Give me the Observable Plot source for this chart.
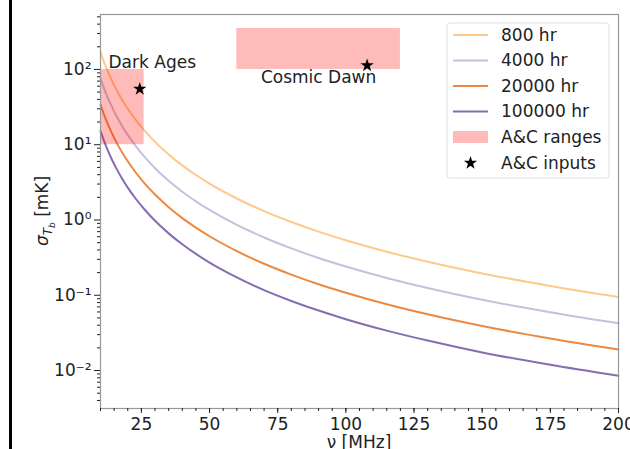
<!DOCTYPE html>
<html>
<head>
<meta charset="utf-8">
<script src="https://cdn.jsdelivr.net/npm/d3@7"></script>
<script src="https://cdn.jsdelivr.net/npm/@observablehq/plot@0.6"></script>
<style>
  html, body { margin: 0; padding: 0; background: #fff; }
  #chart { width: 630px; height: 449px; overflow: hidden; }
</style>
</head>
<body>
<div id="chart"></div>
<script>
// ---- data ----
const nu = [10, 11, 12, 14, 16, 18, 20, 23, 26, 30, 35, 40, 45, 50, 60, 70, 80, 90, 100, 115, 130, 150, 175, 200];
const sigma800 = [170, 134, 107.8, 73.3, 52.5, 39.1, 30.1, 21.2, 15.6, 10.9, 7.42, 5.31, 3.96, 3.04, 1.93, 1.31, 0.939, 0.700, 0.538, 0.379, 0.279, 0.195, 0.133, 0.095];
const sigma4000 = [76.0, 59.9, 48.2, 32.8, 23.5, 17.5, 13.5, 9.48, 6.98, 4.87, 3.32, 2.37, 1.77, 1.36, 0.863, 0.586, 0.420, 0.313, 0.241, 0.170, 0.125, 0.0872, 0.0595, 0.0425];
const sigma20000 = [34.0, 26.8, 21.6, 14.7, 10.5, 7.82, 6.02, 4.24, 3.12, 2.18, 1.48, 1.06, 0.792, 0.608, 0.386, 0.262, 0.188, 0.140, 0.108, 0.0758, 0.0558, 0.039, 0.0266, 0.019];
const sigma100000 = [15.2, 12.0, 9.64, 6.56, 4.70, 3.50, 2.69, 1.90, 1.40, 0.975, 0.664, 0.475, 0.354, 0.272, 0.173, 0.117, 0.084, 0.0626, 0.0481, 0.0339, 0.0250, 0.0174, 0.0119, 0.0085];
const seriesNames = ["800 hr", "4000 hr", "20000 hr", "100000 hr"];
const seriesColors = ["#fdb863", "#b2abd2", "#e66101", "#5e3c99"];

const rangeNames = ["Dark Ages", "Cosmic Dawn"];
const rangeNu1 = [10, 60];
const rangeNu2 = [26, 120];
const rangeSigma1 = [10, 100];
const rangeSigma2 = [100, 350];

const inputNu = [24.4, 107.8];
const inputSigma = [55, 113];

const xTicks = [25, 50, 75, 100, 125, 150, 175, 200];
const xMinorTicks = d3.range(10, 201, 5);
const yTicks = [0.01, 0.1, 1, 10, 100];
const yTickLabels = ["10⁻²", "10⁻¹", "10⁰", "10¹", "10²"];
const yMinorTicks = [0.001, 0.01, 0.1, 1, 10, 100].flatMap(b => [2,3,4,5,6,7,8,9].map(k => +(b * k).toPrecision(3))).filter(v => v > 0.0031 && v < 537);

// ---- build tables ----
const sigmas = [sigma800, sigma4000, sigma20000, sigma100000];
const lineData = sigmas.flatMap((s, i) => nu.map((v, j) => ({nu: v, sigma: s[j], series: seriesNames[i]})));
const ranges = rangeNames.map((n, i) => ({name: n, x1: rangeNu1[i], x2: rangeNu2[i], y1: rangeSigma1[i], y2: rangeSigma2[i]}));
const inputs = inputNu.map((v, i) => ({nu: v, sigma: inputSigma[i]}));

const font = "DejaVu Sans, sans-serif";

const chart = Plot.plot({
  width: 630,
  height: 449,
  marginLeft: 100,
  marginRight: 12,
  marginTop: 14,
  marginBottom: 41,
  style: {fontFamily: font, fontSize: "16px", color: "#222", background: "#fff"},
  x: {domain: [10, 200]},
  y: {type: "log", domain: [0.00313, 537]},
  color: {domain: seriesNames, range: seriesColors},
  marks: [
    Plot.line(lineData, {x: "nu", y: "sigma", z: "series", stroke: "series", strokeWidth: 2, strokeOpacity: 0.75, curve: "monotone-x"}),
    Plot.rect(ranges, {x1: "x1", x2: "x2", y1: "y1", y2: "y2", fill: "red", fillOpacity: 0.27}),
    Plot.dot(inputs, {x: "nu", y: "sigma", symbol: "star", fill: "black", r: 4.2}),
    Plot.text([ranges[0]], {x: "x1", y: "y2", text: "name", textAnchor: "start", lineAnchor: "bottom", dx: 8, dy: -1, fontSize: 17, fill: "#222"}),
    Plot.text([ranges[1]], {x: d => (d.x1 + d.x2) / 2, y: "y1", text: "name", textAnchor: "middle", lineAnchor: "top", dy: 1, fontSize: 17, fill: "#222"}),
    Plot.frame({stroke: "#999", strokeWidth: 1.2}),
    Plot.axisX({ticks: xMinorTicks, tickSize: 3, tickFormat: () => "", label: null}),
    Plot.axisX({ticks: xTicks, tickSize: 5, tickPadding: 4, tickFormat: d => String(d), label: null, fontSize: 17}),
    Plot.axisY({ticks: yMinorTicks, tickSize: 3, tickFormat: () => "", label: null}),
    Plot.axisY({ticks: yTicks, tickSize: 6, tickPadding: 3, tickFormat: d => yTickLabels[yTicks.indexOf(d)], label: null, fontSize: 17})
  ]
});

document.getElementById("chart").appendChild(chart);

const svg = d3.select(chart);

// left black border line of the original figure
svg.append("rect").attr("x", 9).attr("y", 0).attr("width", 3).attr("height", 449).attr("fill", "#000");

// axis labels
svg.append("text")
  .attr("x", 359).attr("y", 448)
  .attr("text-anchor", "middle")
  .attr("font-family", font).attr("font-size", 17).attr("fill", "#222")
  .text("ν [MHz]");

const yl = svg.append("text")
  .attr("transform", "translate(48,211) rotate(-90)")
  .attr("text-anchor", "middle")
  .attr("font-family", font).attr("font-size", 17).attr("fill", "#222");
yl.append("tspan").attr("font-style", "italic").text("σ");
yl.append("tspan").attr("dy", 4).attr("font-size", 12).attr("font-style", "italic").text("T");
yl.append("tspan").attr("dy", 3).attr("font-size", 9).attr("font-style", "italic").text("b");
yl.append("tspan").attr("dy", -7).attr("font-size", 17).text(" [mK]");

// legend
const lg = svg.append("g").attr("font-family", font).attr("font-size", 17).attr("fill", "#222").attr("text-anchor", "start");
lg.append("rect").attr("x", 447).attr("y", 23).attr("width", 162).attr("height", 155)
  .attr("rx", 3).attr("fill", "#fff").attr("fill-opacity", 0.85).attr("stroke", "#ddd");
const rowY = [35, 60.5, 86, 111.5, 137, 163];
seriesNames.forEach((n, i) => {
  lg.append("line").attr("x1", 453).attr("x2", 488).attr("y1", rowY[i]).attr("y2", rowY[i])
    .attr("stroke", seriesColors[i]).attr("stroke-opacity", 0.75).attr("stroke-width", 2);
  lg.append("text").attr("x", 501).attr("y", rowY[i]).attr("dy", "0.35em").text(n);
});
lg.append("rect").attr("x", 453).attr("y", rowY[4] - 6).attr("width", 35).attr("height", 12)
  .attr("fill", "red").attr("fill-opacity", 0.27);
lg.append("text").attr("x", 501).attr("y", rowY[4]).attr("dy", "0.35em").text("A&C ranges");
lg.append("path").attr("d", d3.symbol(d3.symbolStar, 4.2 * 4.2 * Math.PI)())
  .attr("transform", `translate(470.5,${rowY[5]})`).attr("fill", "black");
lg.append("text").attr("x", 501).attr("y", rowY[5]).attr("dy", "0.35em").text("A&C inputs");
</script>
</body>
</html>
